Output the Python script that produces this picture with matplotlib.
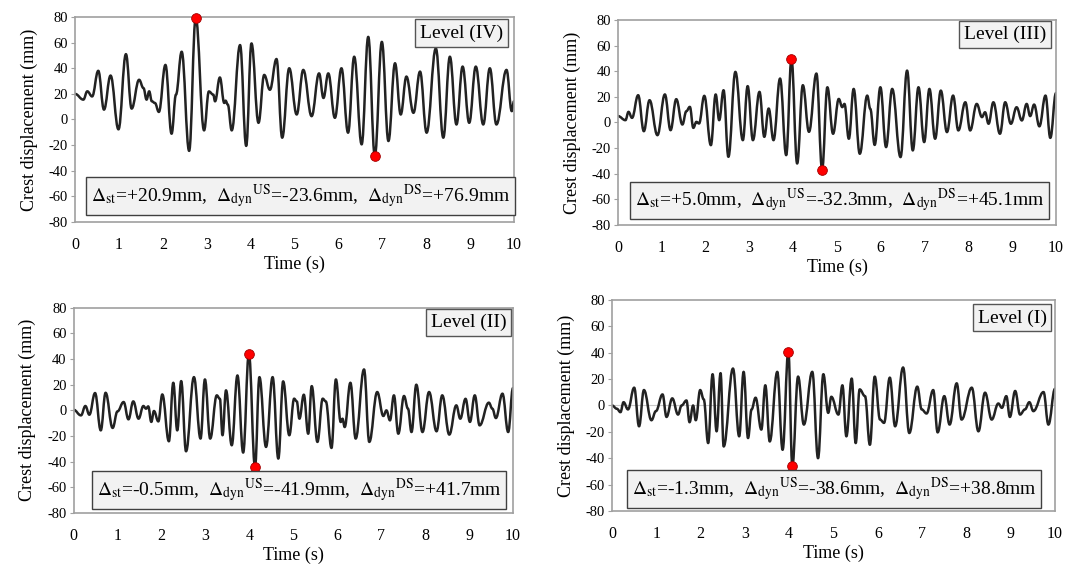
import matplotlib
matplotlib.use('Agg')
import matplotlib.pyplot as plt
from matplotlib.path import Path
from matplotlib.patches import PathPatch
import numpy as np

plt.rcParams['font.family'] = ['Liberation Serif', 'DejaVu Serif']
plt.rcParams['mathtext.fontset'] = 'stix'
plt.rcParams['axes.unicode_minus'] = False

# Level (IV) - peaks and troughs
time_iv = [0, 0.19, 0.28, 0.39, 0.53, 0.66, 0.81, 0.99, 1.16, 1.29,
           1.46, 1.56, 1.63, 1.69, 1.75, 1.82, 1.91, 2.06, 2.20, 2.30,
           2.43, 2.60, 2.75, 2.94, 3.05, 3.15, 3.19, 3.30, 3.40, 3.43,
           3.48, 3.57, 3.76, 3.90, 4.02, 4.18, 4.31, 4.44, 4.59, 4.72,
           4.88, 5.05, 5.20, 5.39, 5.56, 5.66, 5.77, 5.92, 6.07, 6.22,
           6.36, 6.53, 6.68, 6.83, 6.99, 7.14, 7.29, 7.42, 7.55, 7.71,
           7.86, 8.01, 8.22, 8.39, 8.54, 8.69, 8.83, 8.98, 9.13, 9.30,
           9.45, 9.60, 9.83, 9.95, 10.0]
disp_iv = [20, 15.5, 22, 18, 38, 7.7, 34.3, -7.7, 51, 8.5,
           31, 24.5, 15.5, 22, 14.2, 12.9, 5.9, 42.6, -11.1, 19.4,
           52.9, -24.5, 79.5, -8.5, 21.9, 19.4, 14.2, 32.8, 12.9, 14.7,
           11.6, -8.5, 58.1, -20.6, 59.4, -2.6, 34.8, 23.2, 47.2, -14.2,
           40, 3.9, 38.7, 2.6, 36, 16.8, 36, 1.3, 40, -10.3,
           49, -19.4, 64.5, -28.4, 60.6, -16.8, 43.9, 3.9, 33.5, 5.2,
           37.4, -10.3, 55.5, -14.2, 49, -3.9, 41.3, -2.6, 41.3, -3.9,
           40, -3.9, 38.7, 6.5, 14.2]

# Level (III)
time_iii = [0, 0.17, 0.24, 0.32, 0.46, 0.59, 0.72, 0.90, 1.07, 1.20,
            1.33, 1.47, 1.56, 1.64, 1.72, 1.79, 1.85, 1.97, 2.12, 2.23,
            2.31, 2.41, 2.52, 2.68, 2.85, 2.96, 3.08, 3.23, 3.34, 3.44,
            3.55, 3.70, 3.84, 3.96, 4.09, 4.22, 4.36, 4.53, 4.66, 4.78,
            4.91, 5.04, 5.12, 5.17, 5.27, 5.38, 5.52, 5.69, 5.76, 5.86,
            5.99, 6.12, 6.26, 6.45, 6.60, 6.73, 6.86, 6.99, 7.11, 7.24,
            7.37, 7.51, 7.65, 7.77, 7.93, 8.04, 8.19, 8.31, 8.38, 8.46,
            8.57, 8.72, 8.84, 8.97, 9.10, 9.22, 9.33, 9.41, 9.50, 9.62,
            9.76, 9.87, 10.0]
disp_iii = [5, 1.8, 8.3, 3.6, 21.3, -6.8, 17.4, -9.9, 21.9, -6,
            18.2, -1.6, 8.8, 12.2, -4.2, 0.5, -0.8, 20.8, -17.7, 21.9,
            1.8, 25.2, -26.8, 39.5, -13.8, 28.4, -13.8, 23.9, -11.2, 10.9,
            -13.8, 34.3, -25.5, 49.4, -32, 29.1, -7.3, 38.2, -36.7, 27.5,
            -8.8, 18.4, 12, 14.5, -12.7, 26.2, -24.4, 21, 10.6, -17.5,
            27.5, -19.2, 26.2, -27, 40.5, -21.8, 27.5, -15.3, 26.2, -12.7,
            24.9, -7.5, 21, -6.2, 15.8, -6.2, 14.5, 4.2, 8, -1,
            15.8, -8.8, 15.8, -1, 11.9, 1.6, 14.5, 5, 14, -3,
            21, -12, 23]

# Level (II)
time_ii = [0, 0.17, 0.27, 0.36, 0.49, 0.62, 0.73, 0.89, 1.00, 1.14,
           1.25, 1.36, 1.48, 1.59, 1.65, 1.70, 1.77, 1.83, 1.93, 2.02,
           2.17, 2.27, 2.36, 2.45, 2.56, 2.74, 2.89, 2.99, 3.11, 3.26,
           3.33, 3.39, 3.47, 3.60, 3.73, 3.86, 3.99, 4.13, 4.23, 4.38,
           4.53, 4.66, 4.77, 4.91, 5.02, 5.08, 5.14, 5.24, 5.34, 5.42,
           5.55, 5.67, 5.74, 5.87, 5.97, 6.08, 6.12, 6.17, 6.30, 6.42,
           6.61, 6.73, 6.91, 7.05, 7.12, 7.20, 7.29, 7.39, 7.52, 7.61,
           7.69, 7.80, 7.94, 8.09, 8.26, 8.39, 8.55, 8.71, 8.80, 8.92,
           9.02, 9.13, 9.24, 9.45, 9.53, 9.61, 9.76, 9.89, 10.0]
disp_ii = [0.5, -3.9, 3.4, -3.4, 13.5, -15.6, 13.7, -13.7, -0.8, 6.5,
           -7, 7, -6.5, 3.4, 1.3, 3.1, -9, -0.5, -8.6, 12.4,
           -24.1, 21.5, -15.6, 22.8, -31.9, 25.9, -22, 24.1, -22, 11.7,
           9, -19.4, 15.6, -27.2, 27.2, -32.9, 44.1, -44.1, 25.9, -28.5,
           25.9, -37.6, 22.6, -19.4, 9.1, 7, -6.5, 12.2, -18.2, 18.9,
           -24.6, 9.1, 7, -29.3, 24.1, -9.1, -6.5, -13, 21.5, -22,
           31.9, -24.6, 14.3, -4.4, 0, -7.8, 11.7, -18.2, 11.2, 1.3,
           -16.9, 20, -16.9, 14.3, -16.3, 11.7, -18.9, 3.9, -6.5, 9,
           -9, 11.7, -11.7, 6, 1.3, -6, 13, -16.9, 17.4]

# Level (I)
time_i = [0, 0.11, 0.19, 0.26, 0.36, 0.50, 0.61, 0.72, 0.89, 0.99,
          1.14, 1.23, 1.36, 1.49, 1.57, 1.68, 1.75, 1.83, 1.89, 1.99,
          2.07, 2.17, 2.27, 2.36, 2.45, 2.52, 2.73, 2.87, 2.97, 3.07,
          3.15, 3.24, 3.37, 3.46, 3.56, 3.73, 3.85, 3.98, 4.07, 4.20,
          4.33, 4.52, 4.65, 4.77, 4.88, 4.95, 5.11, 5.20, 5.29, 5.41,
          5.50, 5.59, 5.71, 5.82, 5.93, 6.05, 6.14, 6.27, 6.39, 6.57,
          6.71, 6.89, 6.99, 7.10, 7.25, 7.35, 7.50, 7.62, 7.78, 7.89,
          8.12, 8.27, 8.42, 8.57, 8.72, 8.80, 8.90, 8.98, 9.10, 9.21,
          9.32, 9.42, 9.51, 9.74, 9.85, 10.0]
disp_i = [0, -2.5, -5.1, 2.5, -3, 13.5, -15.8, 11.7, -11.2, -4.3,
          8.4, -8.7, 5.4, -6.9, 0, 3.8, -12.7, 0, -11.2, 11.7,
          4.6, -28.5, 23.7, -19.6, 24.5, -31.1, 28, -23.4, 25.5, -24.7,
          -3, 5.9, -18.3, 15.3, -27.3, 25.5, -33.6, 40.8, -45.9, 21.9,
          -14.5, 25.5, -40, 23.7, -5.6, 6.6, -6.9, 15.3, -23.4, 20.4,
          -28.5, 12.2, 7.1, -29.8, 21.9, -10.7, -13.2, 21.1, -15.8, 28.8,
          -20.9, 14.3, -3, -6.1, 11.7, -20.4, 7.1, -14.5, 16.8, -10.7,
          13.5, -19.6, 9.7, -10.7, 1.5, -1.8, 7.1, -8.7, 11, -6.9,
          -3, 2.5, -4.3, 10.2, -14.5, 12.7]

levels = ['Level (IV)', 'Level (III)', 'Level (II)', 'Level (I)']
notes = [
    r'$\Delta_{\rm st}$=+20.9mm,  $\Delta_{\rm dyn}{}^{\rm US}$=-23.6mm,  $\Delta_{\rm dyn}{}^{\rm DS}$=+76.9mm',
    r'$\Delta_{\rm st}$=+5.0mm,  $\Delta_{\rm dyn}{}^{\rm US}$=-32.3mm,  $\Delta_{\rm dyn}{}^{\rm DS}$=+45.1mm',
    r'$\Delta_{\rm st}$=-0.5mm,  $\Delta_{\rm dyn}{}^{\rm US}$=-41.9mm,  $\Delta_{\rm dyn}{}^{\rm DS}$=+41.7mm',
    r'$\Delta_{\rm st}$=-1.3mm,  $\Delta_{\rm dyn}{}^{\rm US}$=-38.6mm,  $\Delta_{\rm dyn}{}^{\rm DS}$=+38.8mm',
]

# axes rectangles in figure fractions
rects = [[0.0703, 0.6071, 0.4114, 0.3628],
         [0.5792, 0.6018, 0.4105, 0.3628],
         [0.0689, 0.0920, 0.4119, 0.3634],
         [0.5736, 0.0956, 0.4152, 0.3735]]
note_pos = [(0.513, 0.127), (0.505, 0.12), (0.513, 0.112), (0.501, 0.104)]
level_pos = [(0.976, 0.922), (0.978, 0.93), (0.985, 0.927), (0.981, 0.915)]


def smooth_path(t, d):
    # smoothed line through the read points (like a spreadsheet "smoothed line")
    verts = [(t[0], d[0])]
    codes = [Path.MOVETO]
    for i in range(len(t) - 1):
        h = (t[i + 1] - t[i]) * 0.4
        verts += [(t[i] + h, d[i]), (t[i + 1] - h, d[i + 1]), (t[i + 1], d[i + 1])]
        codes += [Path.CURVE4] * 3
    return Path(verts, codes)


def draw_panel(fig, rect, t, d, level, note, npos, lpos, zero_line=False):
    ax = fig.add_axes(rect)
    t = np.array(t)
    d = np.array(d)
    if zero_line:
        ax.axhline(0, color='#c8c8c8', lw=0.8, zorder=1)
    ax.add_patch(PathPatch(smooth_path(t, d), fill=False, ec='#222222', lw=1.8,
                           joinstyle='round', capstyle='round', zorder=2))
    imax = np.argmax(d)
    imin = np.argmin(d)
    ax.plot([t[imax], t[imin]], [d[imax], d[imin]], 'o', color='#ff0000',
            mec='#a00000', mew=0.6, ms=7, zorder=3, clip_on=False)
    ax.set_xlim(0, 10)
    ax.set_ylim(-80, 80)
    ax.set_xticks(range(0, 11))
    ax.set_yticks(range(-80, 81, 20))
    for s in ax.spines.values():
        s.set_color('#a0a0a0')
        s.set_linewidth(1.2)
    ax.tick_params(axis='x', length=0, pad=11, labelsize=11.5)
    ax.tick_params(axis='y', length=3, color='#a0a0a0', pad=2, labelsize=10.5)
    ax.set_xlabel('Time (s)', fontsize=13, labelpad=2)
    ax.set_ylabel('Crest displacement (mm)', fontsize=13, labelpad=8)
    ax.text(npos[0], npos[1], note, transform=ax.transAxes, ha='center',
            va='center', fontsize=14,
            bbox=dict(boxstyle='square,pad=0.25', fc='#f2f2f2', ec='#404040', lw=1))
    ax.text(lpos[0], lpos[1], level, transform=ax.transAxes, ha='right',
            va='center', fontsize=14,
            bbox=dict(boxstyle='square,pad=0.25', fc='#f2f2f2', ec='#555555', lw=1))
    return ax


fig = plt.figure(figsize=(10.67, 5.65), dpi=100)
series = [(time_iv, disp_iv), (time_iii, disp_iii), (time_ii, disp_ii), (time_i, disp_i)]
for k in range(4):
    draw_panel(fig, rects[k], series[k][0], series[k][1], levels[k], notes[k],
               note_pos[k], level_pos[k], zero_line=(k == 3))

fig.savefig('out.png', dpi=100)
